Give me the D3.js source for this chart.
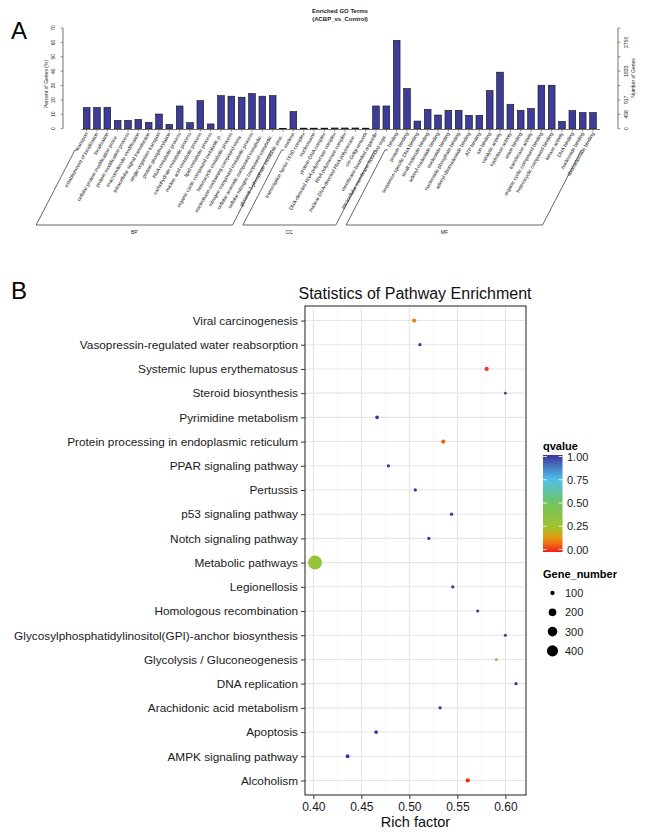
<!DOCTYPE html>
<html>
<head>
<meta charset="utf-8">
<script src="https://cdn.jsdelivr.net/npm/d3@7"></script>
<style>
  body { margin: 0; background: #fff; }
  svg { font-family: "Liberation Sans", Arial, Helvetica, sans-serif; }
</style>
</head>
<body>
<script>
// ---------- panel A data ----------
var goTerms = [
  "transport","establishment of localization","localization","cellular protein modification proce...",
  "protein modification process","macromolecule modification","intracellular signal transduction",
  "single-organism transport","protein phosphorylation","RNA metabolic process","carbohydrate metabolic process",
  "nucleic acid metabolic process","lipid metabolic process","organic cyclic compound metabolic p...",
  "heterocycle metabolic process","nucleobase-containing compound meta...","nitrogen compound metabolic process",
  "cellular aromatic compound metabolic...","cellular nitrogen compound metabolic...","glycerol-3-phosphate metabolic proc...",
  "nucleus","transcription factor TFIID complex","nucleosome","protein-DNA complex",
  "DNA-directed RNA polymerase complex","RNA polymerase complex","nuclear DNA-directed RNA polymerase...",
  "cis-Golgi network","membrane-bounded organelle","intracellular membrane-bounded orga...",
  "binding","protein binding","sequence-specific DNA binding","small molecule binding","adenyl nucleotide binding",
  "nucleotide binding","nucleoside phosphate binding","adenyl ribonucleotide binding","ATP binding","ion binding",
  "catalytic activity","hydrolase activity","anion binding","transferase activity","organic cyclic compound binding",
  "heterocyclic compound binding","kinase activity","DNA binding","nucleoside binding","ribonucleoside binding"
];
var goPercent = [
  14.7,14.7,14.9,5.8,5.8,6.5,4.4,10.2,3.0,15.8,4.2,19.5,3.3,23.0,22.6,21.9,24.4,22.6,23.0,0.3,
  11.9,0.4,0.4,0.4,0.5,0.5,0.5,0.4,15.8,15.8,
  61.4,27.9,5.3,13.5,9.5,12.8,12.8,9.3,9.3,26.5,39.3,17.0,12.8,14.0,30.2,30.2,5.1,12.6,11.2,11.2
];
var goGroups = ["BP","CC","MF"];
var goGroupSize = [20,10,20];
var leftTicks = [0,10,20,30,40,50,60,70];
var rightTickLabels = {0:"0",10:"458",20:"917",40:"1833",60:"2750"};

// ---------- panel B data ----------
var pathways = [
  "Viral carcinogenesis","Vasopressin-regulated water reabsorption","Systemic lupus erythematosus",
  "Steroid biosynthesis","Pyrimidine metabolism","Protein processing in endoplasmic reticulum",
  "PPAR signaling pathway","Pertussis","p53 signaling pathway","Notch signaling pathway",
  "Metabolic pathways","Legionellosis","Homologous recombination",
  "Glycosylphosphatidylinositol(GPI)-anchor biosynthesis","Glycolysis / Gluconeogenesis",
  "DNA replication","Arachidonic acid metabolism","Apoptosis","AMPK signaling pathway","Alcoholism"
];
var richFactor = [0.505,0.511,0.5805,0.600,0.4664,0.5353,0.4782,0.5062,0.5439,0.5203,
                  0.4018,0.5452,0.5712,0.600,0.5906,0.611,0.532,0.4654,0.4357,0.5608];
var qvalue = [0.12,1,0.03,1,1,0.07,1,1,1,1,0.32,1,1,1,0.34,1,1,1,1,0.02];
var geneNumber = [100,90,100,88,93,100,90,90,90,90,650,90,89,89,89,90,90,93,95,100];
var qBreaks = [0,0.25,0.5,0.75,1];
var sizeBreaks = [100,200,300,400];

var svg = d3.select("body").append("svg").attr("width",650).attr("height",838);

// panel letters
svg.append("text").attr("x",11).attr("y",39).style("font-size","24px").text("A");
svg.append("text").attr("x",11).attr("y",299).style("font-size","24px").text("B");

// ================= Panel A =================
var gA = svg.append("g");
var xA = d3.scaleBand().domain(d3.range(goTerms.length)).range([81.5,598.2])
  .paddingInner(0.35).paddingOuter(0.175);
var yA = d3.scaleLinear().domain([0,70]).range([128.7,28.0]);

gA.append("text").attr("x",340).attr("y",13).attr("text-anchor","middle")
  .style("font-size","6px").style("font-weight","bold").attr("fill","#222").text("Enriched GO Terms");
gA.append("text").attr("x",340).attr("y",21).attr("text-anchor","middle")
  .style("font-size","6px").style("font-weight","bold").attr("fill","#222").text("(ACBP_vs_Control)");

gA.selectAll("rect.bar").data(goPercent).enter().append("rect")
  .attr("class","bar")
  .attr("x",function(d,i){ return xA(i); })
  .attr("width",xA.bandwidth())
  .attr("y",function(d){ return yA(d); })
  .attr("height",function(d){ return yA(0)-yA(d); })
  .attr("fill","#3d3d99").attr("stroke","#111").attr("stroke-width",0.6);

// x axis line with ticks
gA.append("line").attr("x1",81.5).attr("x2",600).attr("y1",129.5).attr("y2",129.5)
  .attr("stroke","#333").attr("stroke-width",0.7);
gA.selectAll("line.xt").data(goTerms).enter().append("line").attr("class","xt")
  .attr("x1",function(d,i){ return xA(i)+xA.bandwidth()/2; })
  .attr("x2",function(d,i){ return xA(i)+xA.bandwidth()/2; })
  .attr("y1",129.5).attr("y2",131.8).attr("stroke","#333").attr("stroke-width",0.5);
gA.selectAll("text.xl").data(goTerms).enter().append("text").attr("class","xl")
  .attr("text-anchor","end")
  .attr("transform",function(d,i){ return "translate(" + (xA(i)+xA.bandwidth()/2+1.5) + ",133.5) rotate(-60)"; })
  .style("font-size","5px").attr("fill","#222").text(function(d){ return d; });

// left axis
var leftAxis = gA.append("g").attr("transform","translate(63,0)");
leftAxis.append("line").attr("y1",yA(0)).attr("y2",yA(70)).attr("stroke","#333").attr("stroke-width",0.7);
leftAxis.selectAll("line.t").data(leftTicks).enter().append("line").attr("class","t")
  .attr("x1",0).attr("x2",-2.5).attr("y1",yA).attr("y2",yA).attr("stroke","#333").attr("stroke-width",0.5);
leftAxis.selectAll("text").data(leftTicks).enter().append("text")
  .attr("text-anchor","middle")
  .attr("transform",function(d){ return "translate(-8," + yA(d) + ") rotate(-90)"; })
  .style("font-size","5px").attr("fill","#222").text(function(d){ return d; });
gA.append("text").attr("text-anchor","middle")
  .attr("transform","translate(47.5,84) rotate(-90)")
  .style("font-size","5px").attr("fill","#222").text("Percent of Genes (%)");

// right axis
var rightAxis = gA.append("g").attr("transform","translate(618,0)");
rightAxis.append("line").attr("y1",yA(0)).attr("y2",yA(70)).attr("stroke","#333").attr("stroke-width",0.7);
rightAxis.selectAll("line.t").data(leftTicks).enter().append("line").attr("class","t")
  .attr("x1",0).attr("x2",2.5).attr("y1",yA).attr("y2",yA).attr("stroke","#333").attr("stroke-width",0.5);
rightAxis.selectAll("text").data(leftTicks.filter(function(d){ return rightTickLabels[d]; })).enter().append("text")
  .attr("text-anchor","middle")
  .attr("transform",function(d){ return "translate(10," + yA(d) + ") rotate(-90)"; })
  .style("font-size","5px").attr("fill","#222").text(function(d){ return rightTickLabels[d]; });
gA.append("text").attr("text-anchor","middle")
  .attr("transform","translate(635,78) rotate(-90)")
  .style("font-size","5px").attr("fill","#222").text("Number of Genes");

// group brackets
var start = 0;
goGroups.forEach(function(g,k){
  var f = start, l = start + goGroupSize[k] - 1;
  var xf = xA(f)+xA.bandwidth()/2, xl = xA(l)+xA.bandwidth()/2;
  var p = d3.path();
  p.moveTo(xf-9,150); p.lineTo(xf-11.7,150); p.lineTo(xf-50.5,225);
  p.lineTo(xl-50.5,225); p.lineTo(xl-11.7,150);
  gA.append("path").attr("d",p.toString()).attr("fill","none").attr("stroke","#333").attr("stroke-width",0.75);
  gA.append("text").attr("x",(xf+xl)/2-50.5).attr("y",234).attr("text-anchor","middle")
    .style("font-size","5px").attr("fill","#222").text(g);
  start += goGroupSize[k];
});

// ================= Panel B =================
var gB = svg.append("g");
var px0 = 305, px1 = 526, py0 = 306, py1 = 795;
var rfExt = d3.extent(richFactor), rfPad = (rfExt[1]-rfExt[0])*0.05;
var xB = d3.scaleLinear().domain([rfExt[0]-rfPad, rfExt[1]+rfPad]).range([px0,px1]);
var yB = d3.scalePoint().domain(pathways).range([py0,py1]).padding(0.6);
var colorB = d3.scaleLinear().domain([0,0.08,0.15,0.25,0.5,0.75,1])
  .range(["#ee1c1c","#f06a10","#e39a12","#a2c22a","#72c45e","#4fc0e8","#40339a"]);
var geneExt = d3.extent(geneNumber);
var geneT = d3.scaleLinear().domain(geneExt).range([0,1]);
var rB = d3.scaleSqrt().domain([0,1]).range([1.3,7]);
function radius(n){ return rB(Math.max(0,geneT(n))); }

gB.append("rect").attr("x",px0).attr("y",py0).attr("width",px1-px0).attr("height",py1-py0).attr("fill","#fff");
var majorX = xB.ticks(5), minorX = d3.range(0.375,0.65,0.05).filter(function(v){ return xB(v)>px0 && xB(v)<px1; });
gB.selectAll("line.mn").data(minorX).enter().append("line").attr("class","mn")
  .attr("x1",xB).attr("x2",xB).attr("y1",py0).attr("y2",py1).attr("stroke","#f2f2f2").attr("stroke-width",0.6);
gB.selectAll("line.mj").data(majorX).enter().append("line").attr("class","mj")
  .attr("x1",xB).attr("x2",xB).attr("y1",py0).attr("y2",py1).attr("stroke","#e6e6e6").attr("stroke-width",1.1);
gB.selectAll("line.hy").data(pathways).enter().append("line").attr("class","hy")
  .attr("x1",px0).attr("x2",px1).attr("y1",yB).attr("y2",yB).attr("stroke","#e6e6e6").attr("stroke-width",1.1);

gB.selectAll("circle.pt").data(pathways).enter().append("circle").attr("class","pt")
  .attr("cx",function(d,i){ return xB(richFactor[i]); })
  .attr("cy",function(d){ return yB(d); })
  .attr("r",function(d,i){ return radius(geneNumber[i]); })
  .attr("fill",function(d,i){ return colorB(qvalue[i]); });

gB.append("rect").attr("x",px0).attr("y",py0).attr("width",px1-px0).attr("height",py1-py0)
  .attr("fill","none").attr("stroke","#333").attr("stroke-width",1.1);

// axes
var yAxisB = gB.append("g").attr("transform","translate(" + px0 + ",0)")
  .call(d3.axisLeft(yB).tickSize(4).tickPadding(3));
yAxisB.select(".domain").remove();
yAxisB.selectAll("line").attr("stroke","#333");
yAxisB.selectAll("text").style("font-size","11.8px").attr("fill","#1a1a1a").style("font-family",null);

var xAxisB = gB.append("g").attr("transform","translate(0," + py1 + ")")
  .call(d3.axisBottom(xB).tickValues(majorX).tickFormat(d3.format(".2f")).tickSize(4).tickPadding(3));
xAxisB.select(".domain").remove();
xAxisB.selectAll("line").attr("stroke","#333");
xAxisB.selectAll("text").style("font-size","12px").attr("fill","#1a1a1a").style("font-family",null);

gB.append("text").attr("x",(px0+px1)/2).attr("y",827).attr("text-anchor","middle")
  .style("font-size","14.5px").attr("fill","#111").text("Rich factor");
gB.append("text").attr("x",415).attr("y",299).attr("text-anchor","middle")
  .style("font-size","16px").attr("fill","#111").text("Statistics of Pathway Enrichment");

// colour legend
var lg = gB.append("g");
lg.append("text").attr("x",543).attr("y",450).style("font-size","11px").style("font-weight","bold").text("qvalue");
var qY = d3.scaleLinear().domain([0,1]).range([549.5,456.5]);
var grad = svg.append("defs").append("linearGradient").attr("id","qgrad")
  .attr("x1",0).attr("y1",1).attr("x2",0).attr("y2",0);
grad.selectAll("stop").data(d3.range(0,1.0001,0.025)).enter().append("stop")
  .attr("offset",function(d){ return d; }).attr("stop-color",function(d){ return colorB(d); });
lg.append("rect").attr("x",543).attr("y",455).attr("width",19.5).attr("height",97).attr("fill","url(#qgrad)");
qBreaks.forEach(function(q){
  lg.append("line").attr("x1",543).attr("x2",547).attr("y1",qY(q)).attr("y2",qY(q)).attr("stroke","#fff").attr("stroke-width",0.8);
  lg.append("line").attr("x1",558.5).attr("x2",562.5).attr("y1",qY(q)).attr("y2",qY(q)).attr("stroke","#fff").attr("stroke-width",0.8);
  lg.append("text").attr("x",567).attr("y",qY(q)+4).style("font-size","11px").attr("fill","#1a1a1a").text(d3.format(".2f")(q));
});

// size legend
lg.append("text").attr("x",543).attr("y",578).style("font-size","11px").style("font-weight","bold").text("Gene_number");
sizeBreaks.forEach(function(s,i){
  var cy = 593 + i*19.3;
  lg.append("circle").attr("cx",552.5).attr("cy",cy).attr("r",radius(s)).attr("fill","#000");
  lg.append("text").attr("x",565).attr("y",cy+4).style("font-size","11px").attr("fill","#1a1a1a").text(s);
});
</script>
</body>
</html>
